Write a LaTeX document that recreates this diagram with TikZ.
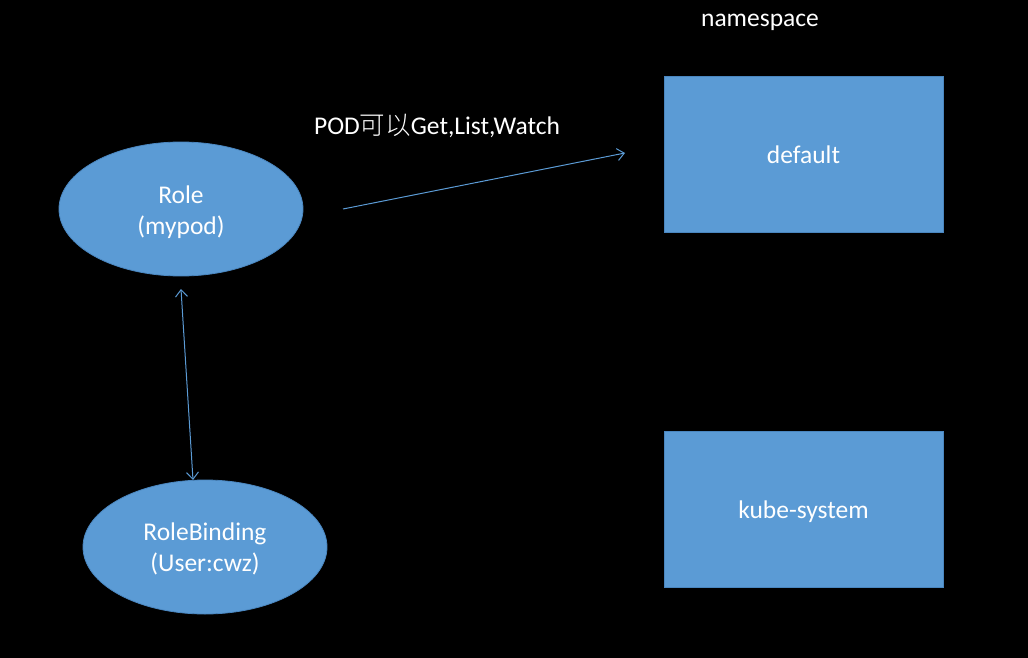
\documentclass[tikz,border=0pt]{standalone}
\usepackage{fontspec}
\setmainfont{Carlito}
\newfontfamily\cjk{Noto Sans CJK SC Light}
\usetikzlibrary{shapes.geometric,arrows.meta}
\definecolor{boxblue}{HTML}{5B9BD5}
\definecolor{boxedge}{HTML}{4A86BF}
\begin{document}
\begin{tikzpicture}[x=1pt,y=-1pt,
  shapebox/.style={fill=boxblue,draw=boxedge,line width=0.8pt,text=white,font=\fontsize{25.5}{31}\selectfont,align=center,inner sep=0pt},
  ell/.style={shapebox,ellipse,minimum width=244pt,minimum height=134pt},
  rectbox/.style={shapebox,rectangle,minimum width=279pt,minimum height=156pt},
  lbl/.style={text=white,font=\fontsize{25.5}{31}\selectfont,inner sep=0pt},
  conn/.style={draw=boxblue,line width=1pt,arrows={-Straight Barb[length=7pt,width=12pt]}}]
\fill[black] (0,0) rectangle (1028,658);
\useasboundingbox (0,0) rectangle (1028,658);
\node[ell] (role) at (181,209) {};
\node[ell] (rb) at (205,547) {};
\node[rectbox] (def) at (803.5,154) {};
\node[rectbox] (kube) at (803.5,509) {};
\node[lbl,align=center] (roletxt) at ([yshift=-3pt]role.center) {Role\\(mypod)};
\node[lbl,align=center] (rbtxt) at ([yshift=-2pt]rb.center) {RoleBinding\\(User:cwz)};
\node[lbl] (deftxt) at ([yshift=-1pt]def.center) {default};
\node[lbl] (kubetxt) at ([yshift=-3pt]kube.center) {kube-system};
\node[lbl] (ns) at (760,22) {namespace};
\node[lbl] (pod) at (437,126) {POD{\cjk 可以}Get,List,Watch};
\coordinate (a1) at (343,209);
\coordinate (a2) at (625,153);
\draw[conn] (a1) -- (a2);
\coordinate (b1) at (181,289);
\coordinate (b2) at (193,480);
\draw[conn,arrows={Straight Barb[length=7pt,width=12pt]-Straight Barb[length=7pt,width=12pt]}] (b1) -- (b2);
\end{tikzpicture}
\end{document}
